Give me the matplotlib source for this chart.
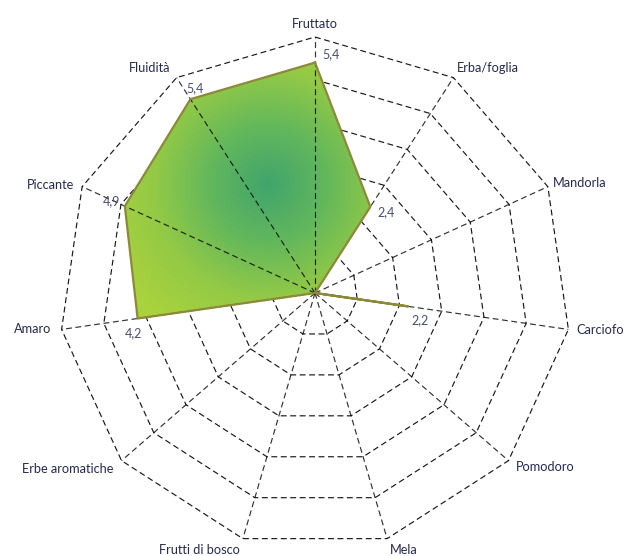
import numpy as np
import matplotlib
matplotlib.use("Agg")
import matplotlib.pyplot as plt
from matplotlib.colors import LinearSegmentedColormap

# ---- data ----
categories = ["Fruttato", "Erba/foglia", "Mandorla", "Carciofo", "Pomodoro", "Mela",
              "Frutti di bosco", "Erbe aromatiche", "Amaro", "Piccante", "Fluidità"]
values = [5.4, 2.4, 0, 2.2, 0, 0, 0, 0, 4.2, 4.9, 5.4]
value_labels = ["5,4", "2,4", "", "2,2", "", "", "", "", "4,2", "4,9", "5,4"]
rings = [1, 2, 3, 4, 5, 6]
rmax = 6

# label offsets in pixels (dx, dy) and alignment
cat_offsets = [(0, 13, "center"), (3, 10, "left"), (5, 4, "left"), (8, -1, "left"),
               (7, -6, "left"), (3, -11, "left"), (-3, -11, "right"), (-8, -8, "right"),
               (-10, 0, "right"), (-8, 2, "right"), (-6, 10, "right")]
val_offsets = [(16, 8), (16, -5), (0, 0), (12, -14), (0, 0), (0, 0), (0, 0), (0, 0),
               (-4, -15), (-13, 5), (5, 11)]

plt.rcParams['font.family'] = ['Lato', 'DejaVu Sans']

W, H = 638, 556
fig = plt.figure(figsize=(W / 100, H / 100), dpi=100)
cx, cy, R = 315, 293, 256
ax = fig.add_axes([(cx - R) / W, (H - cy - R) / H, 2 * R / W, 2 * R / H], projection="polar")
ax.set_theta_offset(np.pi / 2)
ax.set_theta_direction(-1)
ax.set_ylim(0, rmax)
ax.axis("off")

n = len(categories)
theta = np.arange(n) * 2 * np.pi / n
theta_c = np.append(theta, theta[0])

# gradient fill clipped to polygon
vals_c = np.append(values, values[0])
poly = ax.fill(theta_c, vals_c, facecolor="none", edgecolor="none", zorder=2)[0]
tg = np.linspace(0, 2 * np.pi, 361)
rg = np.linspace(0, rmax, 121)
TT, RR = np.meshgrid(tg, rg)
X = RR * np.sin(TT)
Y = RR * np.cos(TT)
gx, gy = -1.1, 2.55
D = np.sqrt((X - gx) ** 2 + (Y - gy) ** 2)
Z = np.clip(D / 4.0, 0, 1)
cmap = LinearSegmentedColormap.from_list("g", ["#40a46c", "#62b75c", "#93c946", "#a9d23c"])
mesh = ax.pcolormesh(TT, RR, Z, cmap=cmap, vmin=0, vmax=1, shading="gouraud", zorder=2)
mesh.set_clip_path(poly)
ax.plot(theta_c, vals_c, color="#8c8a3a", lw=1.6, zorder=4, clip_on=False)

# grid: polygon rings (under fill) and spokes (over fill)
for r in rings:
    ax.plot(theta_c, [r] * (n + 1), color="black", lw=0.85, ls=(0, (5, 3)),
            zorder=1, clip_on=False, alpha=0.9)
for t in theta:
    ax.plot([t, t], [0, rmax], color="black", lw=0.85, ls=(0, (5, 3)),
            zorder=3, clip_on=False, alpha=0.8)

# category labels
for t, lab, (dx, dy, ha) in zip(theta, categories, cat_offsets):
    ax.annotate(lab, xy=(t, rmax), xytext=(dx * 0.72, dy * 0.72), textcoords="offset points",
                ha=ha, va="center", fontsize=9.2, color="#262a50", annotation_clip=False)

# value labels
for t, v, lab, (dx, dy) in zip(theta, values, value_labels, val_offsets):
    if lab:
        ax.annotate(lab, xy=(t, v), xytext=(dx * 0.72, dy * 0.72), textcoords="offset points",
                    ha="center", va="center", fontsize=9, color="#4a4f6e",
                    annotation_clip=False, zorder=5)

fig.savefig("out.png", dpi=100)
